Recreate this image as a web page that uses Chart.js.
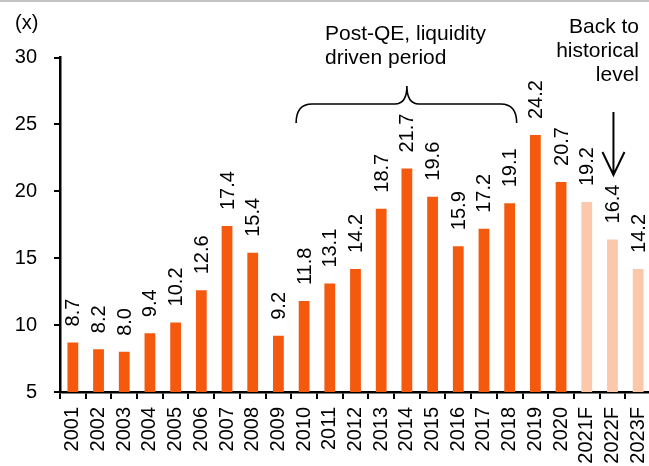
<!DOCTYPE html>
<html>
<head>
<meta charset="utf-8">
<script src="https://cdn.jsdelivr.net/npm/chart.js@4/dist/chart.umd.min.js"></script>
<style>
  html, body { margin: 0; padding: 0; background: #fff; overflow: hidden; }
  #wrap { position: relative; width: 651px; height: 466px; }
</style>
</head>
<body>
<div id="wrap"><canvas id="myChart"></canvas></div>
<script>
// Chart data
const years = ["2001", "2002", "2003", "2004", "2005", "2006", "2007", "2008", "2009", "2010",
  "2011", "2012", "2013", "2014", "2015", "2016", "2017", "2018", "2019", "2020",
  "2021F", "2022F", "2023F"];
const peValues = [8.7, 8.2, 8.0, 9.4, 10.2, 12.6, 17.4, 15.4, 9.2, 11.8,
  13.1, 14.2, 18.7, 21.7, 19.6, 15.9, 17.2, 19.1, 24.2, 20.7,
  19.2, 16.4, 14.2];
const yTicks = [5, 10, 15, 20, 25, 30];

const FONT = "'Liberation Sans', Arial, sans-serif";
const darkOrange = "#F4590E";
const lightOrange = "#FBC8AC";
const barColors = years.map((y) => (y.endsWith("F") ? lightOrange : darkOrange));

// value labels above bars, rotated
const valueLabels = {
  id: "valueLabels",
  afterDatasetsDraw(chart) {
    const ctx = chart.ctx;
    const meta = chart.getDatasetMeta(0);
    ctx.save();
    ctx.font = "20px " + FONT;
    ctx.fillStyle = "#000";
    ctx.textAlign = "left";
    ctx.textBaseline = "middle";
    meta.data.forEach((bar, i) => {
      ctx.save();
      ctx.translate(bar.x + 1, bar.y - 16);
      ctx.rotate(-Math.PI / 2);
      ctx.fillText(peValues[i].toFixed(1), 0, 0);
      ctx.restore();
    });
    ctx.restore();
  },
};

// notes, brace and arrow
const notes = {
  id: "notes",
  afterDraw(chart) {
    const ctx = chart.ctx;
    const x = chart.scales.x;
    ctx.save();
    // top frame line
    ctx.fillStyle = "#c4c4c4";
    ctx.fillRect(0, 0, chart.width, 2);

    ctx.fillStyle = "#000";
    ctx.font = "20px " + FONT;
    ctx.textBaseline = "alphabetic";
    ctx.textAlign = "left";
    ctx.fillText("(x)", 15, 29);

    ctx.font = "21px " + FONT;
    ctx.fillText("Post-QE, liquidity", 325, 40);
    ctx.fillText("driven period", 325, 64);

    ctx.textAlign = "right";
    ctx.fillText("Back to", 639, 33);
    ctx.fillText("historical", 639, 57);
    ctx.fillText("level", 639, 81);

    // brace over 2010-2018
    const x1 = x.getPixelForValue(9) - 8;
    const x2 = x.getPixelForValue(17) + 7;
    const xm = x.getPixelForValue(13);
    const yEnd = 123, yLine = 104, yTip = 86;
    ctx.strokeStyle = "#000";
    ctx.lineWidth = 1.6;
    ctx.beginPath();
    ctx.moveTo(x1, yEnd);
    ctx.quadraticCurveTo(x1, yLine, x1 + 16, yLine);
    ctx.lineTo(xm - 12, yLine);
    ctx.quadraticCurveTo(xm, yLine, xm, yTip);
    ctx.quadraticCurveTo(xm, yLine, xm + 12, yLine);
    ctx.lineTo(x2 - 16, yLine);
    ctx.quadraticCurveTo(x2, yLine, x2, yEnd);
    ctx.stroke();

    // arrow down to 2022F
    const ax = x.getPixelForValue(21) + 1;
    ctx.lineWidth = 2;
    ctx.beginPath();
    ctx.moveTo(ax, 112);
    ctx.lineTo(ax, 174);
    ctx.moveTo(ax - 11, 152);
    ctx.lineTo(ax, 175);
    ctx.lineTo(ax + 11, 152);
    ctx.stroke();
    ctx.restore();
  },
};

const ctx = document.getElementById("myChart").getContext("2d");
const myChart = new Chart(ctx, {
  type: "bar",
  data: {
    labels: years,
    datasets: [
      {
        label: "P/E",
        data: peValues,
        backgroundColor: barColors,
        borderWidth: 0,
        barPercentage: 0.42,
        categoryPercentage: 1,
      },
    ],
  },
  options: {
    responsive: true,
    maintainAspectRatio: false,
    devicePixelRatio: 1,
    animation: false,
    layout: { padding: { left: 15, right: 0, top: 57.5, bottom: 2 } },
    plugins: {
      legend: { display: false },
      tooltip: { enabled: false },
    },
    scales: {
      x: {
        grid: {
          display: true,
          drawOnChartArea: false,
          drawTicks: true,
          tickLength: 7,
          color: "#000",
          lineWidth: 2,
          offset: true,
        },
        border: { color: "#000", width: 2.5 },
        ticks: {
          color: "#000",
          font: { family: FONT, size: 20 },
          minRotation: 90,
          maxRotation: 90,
          autoSkip: false,
          padding: 8,
        },
        afterFit(scale) {
          scale.height = 72;
          scale.paddingLeft = 0;
          scale.paddingRight = 0;
        },
      },
      y: {
        min: yTicks[0],
        max: yTicks[yTicks.length - 1],
        afterBuildTicks(scale) {
          scale.ticks = yTicks.map((v) => ({ value: v }));
        },
        grid: {
          display: true,
          drawOnChartArea: false,
          drawTicks: true,
          tickLength: 6,
          color: "#000",
          lineWidth: 2,
        },
        border: { color: "#000", width: 2.5 },
        ticks: {
          color: "#000",
          font: { family: FONT, size: 20 },
          padding: 17,
        },
        afterFit(scale) {
          scale.width = 45;
          scale.paddingTop = 0;
          scale.paddingBottom = 0;
        },
      },
    },
  },
  plugins: [valueLabels, notes],
});
</script>
</body>
</html>
